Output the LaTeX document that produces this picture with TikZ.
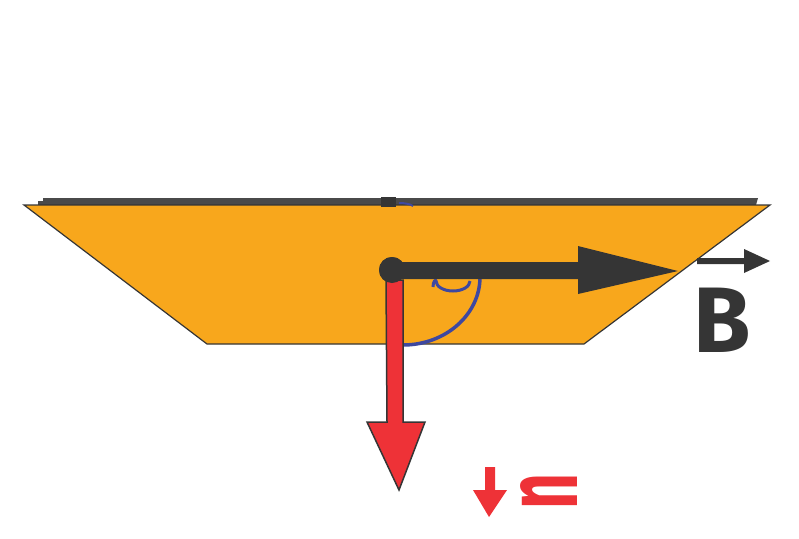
\documentclass[tikz,border=0pt]{standalone}
\usepackage{fontspec}
\setmainfont{Fira Sans}
\definecolor{plate}{HTML}{F8A71C}
\definecolor{dark}{HTML}{353535}
\definecolor{strip}{HTML}{4A4A4A}
\definecolor{nred}{HTML}{EE3237}
\definecolor{arcblue}{HTML}{3E48A0}
\begin{document}
\begin{tikzpicture}[x=1pt,y=-1pt,
  plateshape/.style={fill=plate, draw=dark, line width=1.2pt, line join=miter},
  anglemark/.style={draw=arcblue, line width=3.5pt},
  redarrow/.style={fill=nred, draw=dark, line width=1.5pt, line join=miter},
  labelB/.style={font=\bfseries\fontsize{93}{93}\selectfont, text=dark, anchor=base west, inner sep=0pt},
  labeln/.style={font=\bfseries\fontsize{104}{104}\selectfont, text=nred, inner sep=0pt}]
\useasboundingbox (0,0) rectangle (799,538);
% plate
\fill[strip] (43,198) -- (758,198) -- (756,205) -- (38,205) -- (38,201) -- (43,201) -- cycle;
\filldraw[plateshape] (24,205) -- (770,205) -- (584,344) -- (207,344) -- cycle;
\fill[dark] (381,197) rectangle (396,207);
\draw[arcblue, line width=2pt] (399,203) .. controls (405,203) and (410,204) .. (413,206);
% angle marks
\draw[anglemark] (480,277) arc[start angle=0, end angle=90, x radius=77, y radius=68];
\draw[arcblue, line width=3pt] (433,287) .. controls (433,281) and (436,279) .. (436,281)
  arc[start angle=180, end angle=0, x radius=17, y radius=10];
% origin
\node[circle, fill=dark, minimum size=26pt, inner sep=0pt] (O) at (392,270) {};
\coordinate (Btip) at (678,271);
\coordinate (ntip) at (399,490);
% B arrow
\fill[dark] (O.center) ++(0,-8) -- (578,262) -- (578,246) -- (Btip) -- (578,294) -- (578,279) -- ++(-186,0) -- cycle;
% n arrow
\filldraw[redarrow] (386,280) -- (387,422) -- (367,422) -- (ntip) -- (425,422) -- (403,422) -- (403,280) -- cycle;
\node[circle, fill=dark, minimum size=26pt, inner sep=0pt] at (O) {};
% label B
\node[labelB] (B) at (693,352) {B};
\coordinate (BvS) at (697,261);
\coordinate (BvE) at (770,261);
\fill[dark] (BvS) ++(0,-3) -- (744,258) -- (744,249) -- (BvE) -- (744,273) -- (744,264) -- (697,264) -- cycle;
% label n
\node[labeln] (n) at (549,491) {\rotatebox{90}{\scalebox{0.6}[1]{n}}};
\coordinate (nvS) at (490,467);
\coordinate (nvE) at (489,517);
\fill[nred] (nvS) ++(-5,0) -- (495,467) -- (495,490) -- (507,490) -- (nvE) -- (473,490) -- (485,490) -- cycle;
\end{tikzpicture}
\end{document}
